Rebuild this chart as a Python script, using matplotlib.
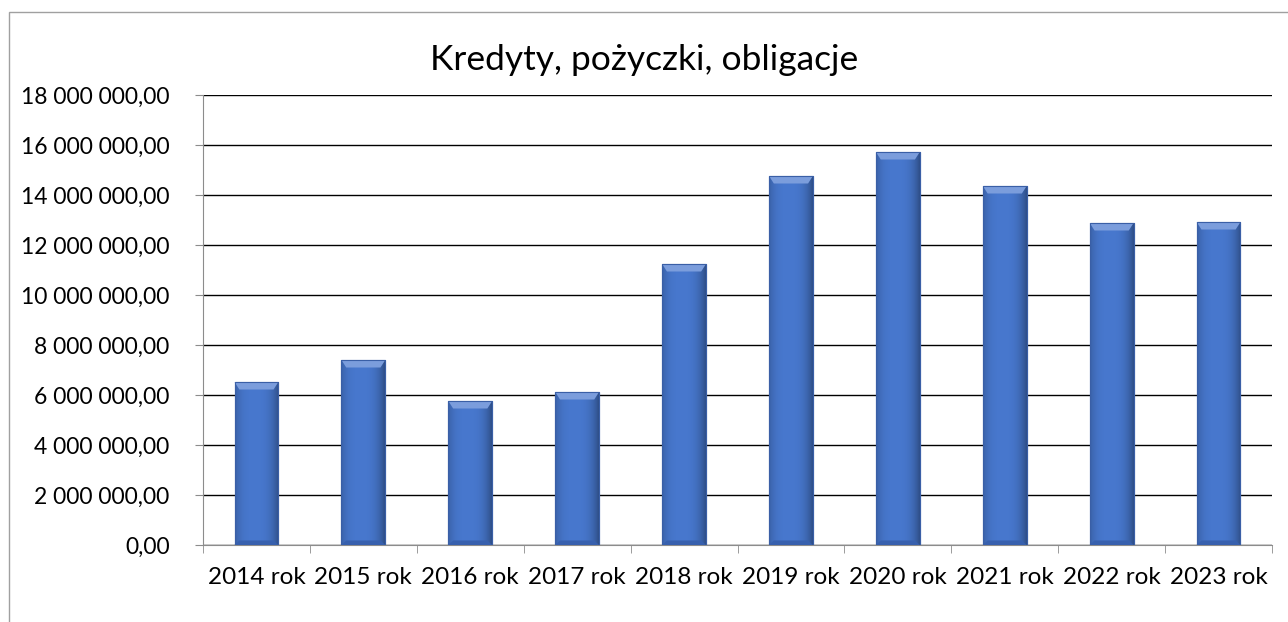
import matplotlib.pyplot as plt
import numpy as np
from matplotlib.patches import Rectangle, Polygon

# dane
lata = ['2014 rok', '2015 rok', '2016 rok', '2017 rok', '2018 rok',
        '2019 rok', '2020 rok', '2021 rok', '2022 rok', '2023 rok']
kwoty = [6520000, 7400000, 5760000, 6120000, 11240000,
         14760000, 15720000, 14360000, 12880000, 12920000]
yticks = [0, 2e6, 4e6, 6e6, 8e6, 10e6, 12e6, 14e6, 16e6, 18e6]

plt.rcParams['font.family'] = ['Lato', 'DejaVu Sans']


def fmt(v):
    s = '{:,.2f}'.format(v)
    return s.replace(',', ' ').replace('.', ',')


fig = plt.figure(figsize=(12.88, 6.22), dpi=100)
ax = fig.add_axes([203/1288, 77/622, 1069/1288, 450/622])

x = np.arange(len(lata))
bars = ax.bar(x, kwoty, width=0.41, color='#4472C4', edgecolor='#3A5FA6',
              linewidth=0.8, zorder=3)

# gradient na slupkach (ciemniejsze boki)
grad = np.linspace(0, 1, 100)
hor = 1 - (np.abs(grad - 0.45) * 2) ** 3
img = np.zeros((2, 100, 4))
base = np.array([0x44, 0x72, 0xC4]) / 255
for i in range(100):
    img[:, i, :3] = np.clip(base * (0.78 + 0.27 * hor[i]), 0, 1)
    img[:, i, 3] = 1

d = 0.045
t = 300000
for b in bars:
    x0, w, h = b.get_x(), b.get_width(), b.get_height()
    im = ax.imshow(img, extent=[x0, x0 + w, 0, h], aspect='auto', zorder=4,
                   interpolation='bilinear')
    im.set_clip_path(b)
    # skos na gorze
    ax.add_patch(Polygon([[x0, h], [x0 + w, h], [x0 + w - d, h - t],
                          [x0 + d, h - t]], closed=True,
                         facecolor='#7B9DDC', edgecolor='none', zorder=5))
    ax.add_patch(Polygon([[x0, 0], [x0 + w, 0], [x0 + w - d, t * 0.6],
                          [x0 + d, t * 0.6]], closed=True,
                         facecolor='#3760AE', edgecolor='none', zorder=5))
    ax.add_patch(Rectangle((x0, 0), w, h, fill=False, edgecolor='#3A5FA6',
                           linewidth=0.8, zorder=6))

ax.set_xlim(-0.5, len(lata) - 0.5)
ax.set_ylim(0, 18e6)
ax.set_yticks(yticks)
ax.set_yticklabels([fmt(v) for v in yticks], fontsize=16.5)
ax.set_xticks(x)
ax.set_xticklabels(lata, fontsize=17.5)
ax.set_xticks(np.arange(-0.5, len(lata)), minor=True)
ax.tick_params(axis='x', which='major', length=0, pad=16)
ax.tick_params(axis='x', which='minor', length=6, color='#8C8C8C')
ax.tick_params(axis='y', length=6, color='#8C8C8C', pad=18)

ax.grid(axis='y', color='black', linewidth=1, zorder=1)
for s in ['top', 'right']:
    ax.spines[s].set_visible(False)
ax.spines['left'].set_color('#8C8C8C')
ax.spines['bottom'].set_color('#8C8C8C')

fig.text(0.5, 1 - 60/622, 'Kredyty, pożyczki, obligacje', fontsize=25.5,
         ha='center', va='center')

fig.patches.append(Rectangle((9/1288, -0.05), 1.1, 1 - 12/622 + 0.05,
                             transform=fig.transFigure, fill=False,
                             edgecolor='#A0A0A0', linewidth=1))

fig.savefig('out.png', dpi=100)
